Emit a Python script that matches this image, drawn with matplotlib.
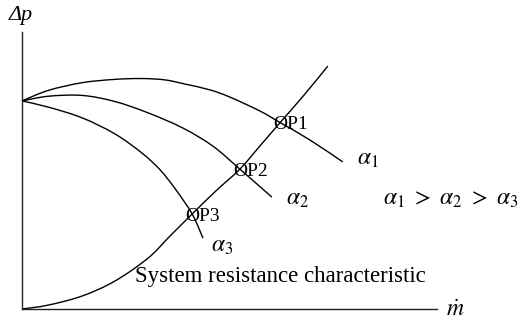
import matplotlib
matplotlib.use("Agg")
import matplotlib.pyplot as plt
from matplotlib.path import Path
from matplotlib.patches import PathPatch

plt.rcParams["font.family"] = ["Liberation Serif", "DejaVu Serif"]
plt.rcParams["mathtext.fontset"] = "stix"

# System resistance characteristic (flow, pressure rise), arbitrary units
flow_sys = [0, 6.3, 14.5, 22.4, 30.4, 35.7, 41.0, 46.7, 52.5, 57.3, 62.2, 68.0, 73.7]
dp_sys = [0, 1.4, 4.7, 10.1, 18.4, 26.4, 34.3, 42.6, 50.5, 58.8, 67.3, 77.3, 87.7]

# Fan characteristics for three blade angles
flow_a1 = [0, 6.3, 14.5, 22.4, 28.9, 34.5, 39.3, 45.3, 50.1, 57.3, 62.2, 69.4, 77.3]
dp_a1 = [75.1, 78.9, 81.7, 82.9, 83.2, 82.7, 81.2, 79.1, 76.5, 71.5, 67.3, 61.0, 53.1]

flow_a2 = [0, 6.3, 14.5, 22.4, 30.4, 38.8, 46.0, 52.5, 60.2]
dp_a2 = [75.1, 76.8, 77.1, 74.9, 70.8, 65.3, 58.8, 50.5, 40.4]

flow_a3 = [0, 6.3, 14.5, 22.4, 28.9, 33.3, 37.1, 41.0, 43.6]
dp_a3 = [75.1, 72.9, 69.0, 63.2, 56.3, 50.2, 43.0, 34.3, 25.6]

# Operating points (intersections with the system curve)
op_names = ["OP1", "OP2", "OP3"]
op_flow = [62.2, 52.5, 41.0]
op_dp = [67.3, 50.5, 34.3]


def smooth_path(xs, ys):
    """Catmull-Rom curve through the given points, as cubic Bezier segments."""
    pts = list(zip(xs, ys))
    n = len(pts)
    verts = [pts[0]]
    codes = [Path.MOVETO]
    for i in range(n - 1):
        p0 = pts[i - 1] if i > 0 else pts[i]
        p1 = pts[i]
        p2 = pts[i + 1]
        p3 = pts[i + 2] if i + 2 < n else pts[i + 1]
        c1 = (p1[0] + (p2[0] - p0[0]) / 6, p1[1] + (p2[1] - p0[1]) / 6)
        c2 = (p2[0] - (p3[0] - p1[0]) / 6, p2[1] - (p3[1] - p1[1]) / 6)
        verts += [c1, c2, p2]
        codes += [Path.CURVE4] * 3
    return Path(verts, codes)


fig = plt.figure(figsize=(5.2, 3.22), dpi=100)
ax = fig.add_axes([22 / 520, 13 / 322, 415 / 520, 277 / 322])
ax.set_xlim(0, 100)
ax.set_ylim(0, 100)
for side in ("top", "right"):
    ax.spines[side].set_visible(False)
for side in ("left", "bottom"):
    ax.spines[side].set_linewidth(1.0)
    ax.spines[side].set_color("#222222")
ax.set_xticks([])
ax.set_yticks([])
ax.patch.set_alpha(0)

lw = 1.0
for xs, ys in [(flow_sys, dp_sys), (flow_a1, dp_a1), (flow_a2, dp_a2), (flow_a3, dp_a3)]:
    ax.add_patch(PathPatch(smooth_path(xs, ys), facecolor="none",
                           edgecolor="black", lw=lw, clip_on=False))

fs_op = 14
for name, x, y in zip(op_names, op_flow, op_dp):
    ax.annotate(name, xy=(x, y), xytext=(-5.0, -4.8), textcoords="offset points",
                ha="left", va="baseline", fontsize=fs_op)

fs_a = 17
ax.text(83.4, 53.8, r"$\alpha_1$", fontsize=fs_a, ha="center", va="center")
ax.text(66.3, 39.4, r"$\alpha_2$", fontsize=fs_a, ha="center", va="center")
ax.text(48.2, 22.7, r"$\alpha_3$", fontsize=fs_a, ha="center", va="center")
ax.text(103.4, 39.7, r"$\alpha_1\ >\ \alpha_2\ >\ \alpha_3$", fontsize=fs_a,
        ha="center", va="center", clip_on=False)
ax.text(27.2, 11.6, "System resistance characteristic", fontsize=16.5,
        ha="left", va="center")

ax.text(-0.24, 106.1, "Δp", fontsize=16, style="italic", ha="center",
        va="center", clip_on=False)
ax.text(104.3, -0.7, r"$\dot{m}$", fontsize=17, ha="center", va="center",
        clip_on=False)

fig.savefig("out.png", dpi=100)
